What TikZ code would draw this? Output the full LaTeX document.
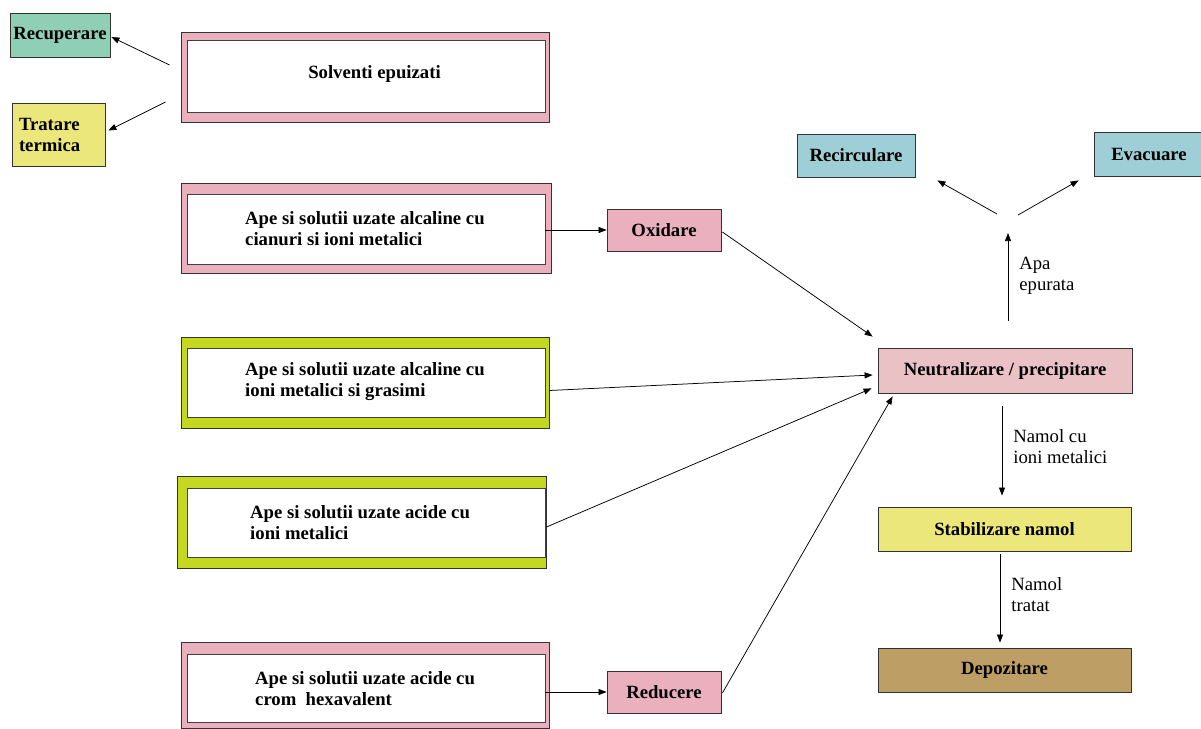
\documentclass[tikz,border=0pt]{standalone}
\usepackage{fontspec}
\setmainfont{Liberation Serif}
\usetikzlibrary{arrows.meta,positioning,calc}

\definecolor{pinkfr}{HTML}{EAB0BE}
\definecolor{limefr}{HTML}{C3D81F}
\definecolor{neutpk}{HTML}{EAC1C5}
\definecolor{tealbx}{HTML}{8FCFB5}
\definecolor{yellbx}{HTML}{EBE77B}
\definecolor{bluebx}{HTML}{9FCFD6}
\definecolor{brownbx}{HTML}{BD9E64}

\begin{document}
\begin{tikzpicture}[x=1pt, y=-1pt,
    frame/.style={draw=black!80, line width=0.9pt, inner sep=0pt},
    panel/.style={draw=black!75, fill=white, line width=0.8pt, minimum width=358pt, inner sep=0pt},
    txt/.style={font=\bfseries\fontsize{18.7}{21}\selectfont, align=left, inner sep=0pt},
    stp/.style={draw=black!80, line width=0.8pt, inner sep=0pt, align=center, font=\bfseries\fontsize{18.7}{21}\selectfont},
    arr/.style={-{Triangle[length=8pt, width=6pt]}, line width=0.75pt},
    lbl/.style={font=\fontsize{18.7}{21}\selectfont, align=left, inner sep=0pt}
]
\useasboundingbox (0,0) rectangle (1201,728);

% surse
\node[frame, fill=pinkfr, minimum width=368pt, minimum height=90pt] (solvfr) at (365,77) {};
\node[panel, minimum height=72pt] (solvin) at (366,76) {};
\node[txt] (solvtx) at (374.5,74) {Solventi epuizati};

\node[frame, fill=pinkfr, minimum width=370pt, minimum height=90pt] (cianfr) at (366,228) {};
\node[panel, minimum height=70pt] (cianin) at (366,229) {};
\node[txt, anchor=west] (ciantx) at (245,229) {Ape si solutii uzate alcaline cu\\cianuri si ioni metalici};

\node[frame, fill=limefr, minimum width=368pt, minimum height=91pt] (grasfr) at (365,382.5) {};
\node[panel, minimum height=69pt] (grasin) at (366,382.5) {};
\node[txt, anchor=west] (grastx) at (245,382) {Ape si solutii uzate alcaline cu\\ioni metalici si grasimi};

\node[frame, fill=limefr, minimum width=369pt, minimum height=92pt] (acidfr) at (361.5,522) {};
\node[panel, minimum height=69pt] (acidin) at (366,522.5) {};
\node[txt, anchor=west] (acidtx) at (250,522.5) {Ape si solutii uzate acide cu\\ioni metalici};

\node[frame, fill=pinkfr, minimum width=368pt, minimum height=86pt] (cromfr) at (365,685) {};
\node[panel, minimum height=68pt] (cromin) at (366,688) {};
\node[txt, anchor=west] (cromtx) at (255,688.5) {Ape si solutii uzate acide cu\\crom\ \ hexavalent};

% solventi
\node[stp, fill=tealbx, minimum width=100pt, minimum height=44pt] (recup) at (60,35) {Recuperare};
\node[stp, fill=yellbx, text width=79pt, inner xsep=7pt, align=left, minimum height=63pt] (trat) at (58.5,134.5) {Tratare\\termica};

% pretratare si epurare
\node[stp, fill=pinkfr, minimum width=114pt, minimum height=42pt] (oxi) at (664,230) {Oxidare};
\node[stp, fill=pinkfr, minimum width=114pt, minimum height=42pt] (reduc) at (664,692) {Reducere};
\node[stp, fill=neutpk, minimum width=254pt, minimum height=45pt] (neut) at (1005,370.5) {Neutralizare / precipitare};
\node[stp, fill=bluebx, minimum width=118pt, minimum height=43pt] (recirc) at (856,155.5) {Recirculare};
\node[stp, fill=bluebx, minimum width=116pt, minimum height=44pt] (evac) at (1152,154) {\hspace*{-6pt}Evacuare};
\node[stp, fill=yellbx, minimum width=253pt, minimum height=44pt] (stab) at (1004.5,529) {Stabilizare namol};
\node[stp, fill=brownbx, minimum width=253pt, minimum height=44pt] (depo) at (1004.5,670) {Depozitare};

\coordinate (apa) at (1008,233);
\coordinate (spl) at (1008,214);

\draw[arr] ($(solvfr.west)+(-11,-12)$) -- ($(recup.east)+(1,2)$);
\draw[arr] ($(solvfr.west)+(-15,25)$) -- ($(trat.east)+(3,-4)$);

\draw[arr] (cianin.east |- oxi.west) -- (oxi.west);
\draw[arr] (cromin.east |- reduc.west) -- (reduc.west);
\draw[arr] ($(oxi.east)+(1,2)$) -- ($(neut.north west)+(-5,-11)$);
\draw[arr] ($(grasfr.east)+(0,8)$) -- ($(neut.west)+(-5,4.5)$);
\draw[arr] ($(acidfr.east)+(0,5)$) -- ($(neut.south west)+(-6,-5)$);
\draw[arr] ($(reduc.east)+(1,1)$) -- ($(neut.south west)+(15,3)$);

\draw[arr, shorten <=27pt] (apa |- neut.north) -- node[lbl, pos=0.63, right=11pt] {Apa\\epurata} (apa);
\draw[arr] ($(spl)+(-11,0)$) -- ($(recirc.south east)+(22,3)$);
\draw[arr] ($(spl)+(10,1)$) -- ($(evac.south west)+(-15,4)$);

\draw[arr, shorten <=13pt, shorten >=11pt] ($(neut.south)+(-3,0)$) -- node[lbl, pos=0.47, right=11pt] {Namol cu\\ioni metalici} ($(stab.north)+(-2.5,0)$);
\draw[arr, shorten <=3pt, shorten >=5pt] ($(stab.south)+(-4.5,0)$) -- node[lbl, pos=0.45, right=11pt] {Namol\\tratat} ($(depo.north)+(-4.5,0)$);
\end{tikzpicture}
\end{document}
